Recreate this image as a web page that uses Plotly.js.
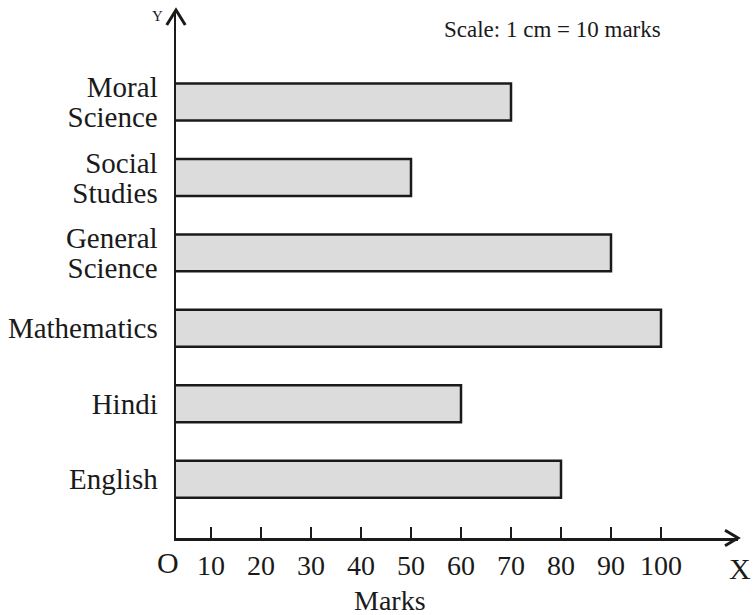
<!DOCTYPE html>
<html>
<head>
<meta charset="utf-8">
<script src="https://cdn.plot.ly/plotly-3.0.1.min.js"></script>
<style>html,body{margin:0;padding:0;background:#fff;}#chart{width:756px;height:615px;}</style>
</head>
<body>
<div id="chart"></div>
<script>
var subjects = ['English', 'Hindi', 'Mathematics', 'General Science', 'Social Studies', 'Moral Science'];
var subjectLabels = ['English', 'Hindi', 'Mathematics', 'General<br>Science', 'Social<br>Studies', 'Moral<br>Science'];
var marks = [80, 60, 100, 90, 50, 70];
var tickValues = [10, 20, 30, 40, 50, 60, 70, 80, 90, 100];

var serif = 'Liberation Serif';
var ink = '#1a1a1a';

var trace = {
  type: 'bar',
  orientation: 'h',
  y: subjects,
  x: marks,
  width: 0.49,
  marker: {color: '#dcdcdc', line: {color: ink, width: 2.5}},
  hoverinfo: 'none'
};

function note(text, x, y, dx, dy, size) {
  return {text: text, xref: 'paper', yref: 'paper', x: x, y: y, xshift: dx, yshift: dy,
          xanchor: 'center', yanchor: 'middle', showarrow: false,
          font: {family: serif, size: size, color: ink}};
}

var layout = {
  width: 756, height: 615,
  margin: {l: 176, r: 18, t: 10, b: 77},
  paper_bgcolor: '#fff', plot_bgcolor: '#fff',
  showlegend: false,
  font: {family: serif, color: ink},
  xaxis: {
    range: [3, 115.4],
    tickvals: tickValues,
    ticks: 'inside', ticklen: 11, tickwidth: 2, tickcolor: ink,
    showline: true, linewidth: 2.5, linecolor: ink,
    showgrid: false, zeroline: false,
    ticklabelstandoff: 1,
    tickfont: {family: serif, size: 28, color: ink}
  },
  yaxis: {
    type: 'category',
    range: [-0.78, 6.22],
    tickvals: subjects, ticktext: subjectLabels,
    ticks: '',
    showline: true, linewidth: 2.5, linecolor: ink,
    showgrid: false, zeroline: false,
    ticklabelstandoff: 10,
    tickfont: {family: serif, size: 29, color: ink}
  },
  shapes: [
    {type: 'path', xref: 'paper', yref: 'paper', path: 'M -0.0165,0.9716 L 0,1 L 0.0165,0.9716', line: {color: ink, width: 3}},
    {type: 'path', xref: 'paper', yref: 'paper', path: 'M 0.9769,0.0148 L 1,0 L 0.9769,-0.0148', line: {color: ink, width: 3}}
  ],
  annotations: [
    note('Y', 0, 1, -19, -6, 15),
    note('O', 0, 0, -8, -24, 30),
    note('X', 1, 0, 2, -30, 30),
    note('Marks', 0, 0, 214, -62, 28),
    note('Scale: 1 cm = 10 marks', 0, 1, 376, -19, 23)
  ]
};

Plotly.newPlot('chart', [trace], layout, {displayModeBar: false, staticPlot: true}).then(function (gd) {
  // tighten the line spacing of the two-line category labels, as in the reference
  var texts = gd.querySelectorAll('.ytick text');
  texts.forEach(function (t) {
    var lines = t.querySelectorAll('tspan.line');
    if (lines.length > 1) {
      for (var i = 1; i < lines.length; i++) lines[i].setAttribute('dy', '1.03em');
      var tr = t.getAttribute('transform') || '';
      t.setAttribute('transform', tr + ' translate(0,4)');
    }
  });
});
</script>
</body>
</html>
